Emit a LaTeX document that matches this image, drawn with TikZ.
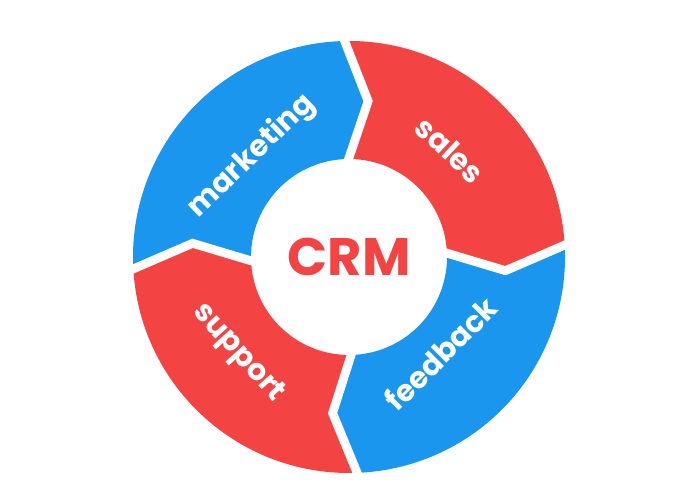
\documentclass[tikz,border=0pt]{standalone}
\usepackage{fontspec}
\setmainfont{Poppins}
\definecolor{crmblue}{HTML}{1A96EE}
\definecolor{crmred}{HTML}{F44343}

\begin{document}
\begin{tikzpicture}[
    segtext/.style={text=white, font=\bfseries\fontsize{17}{17}\selectfont},
    sepline/.style={draw=white, line width=5pt, line join=miter}
]

    %% CRM cycle

    \useasboundingbox[fill=white] (0,0) rectangle (13.98,10);
    \coordinate (O) at (6.98,4.86);

    \begin{scope}[shift={(O)}]

    % Ring segments
    \foreach \a/\b/\c in {184/92/crmblue, 92/4/crmred, 4/-87/crmblue, -87/-176/crmred}
        \fill[\c] (\a:4.32) arc[start angle=\a, end angle=\b, radius=4.32]
            -- ({\b-9}:3.14) -- (\b:1.96)
            arc[start angle=\b, end angle=\a, radius=1.96]
            -- ({\a-9}:3.14) -- cycle;

    % White gaps
    \foreach \a in {92, 4, -87, -176}
        \draw[sepline] (\a:4.5) -- ({\a-9}:3.14) -- (\a:1.8);

    % Labels
    \node[segtext, rotate=44] (marketing) at (134:2.8) {marketing};
    \node[segtext, rotate=-43] (sales) at (46.6:2.94) {sales};
    \node[segtext, rotate=45] (feedback) at (-46.5:2.66) {feedback};
    \node[segtext, rotate=-48] (support) at (221:2.94) {support};

    % Centre
    \node[text=crmred, font=\bfseries\fontsize{30}{30}\selectfont] (crm) at (0,0) {CRM};

    \end{scope}

\end{tikzpicture}
\end{document}
